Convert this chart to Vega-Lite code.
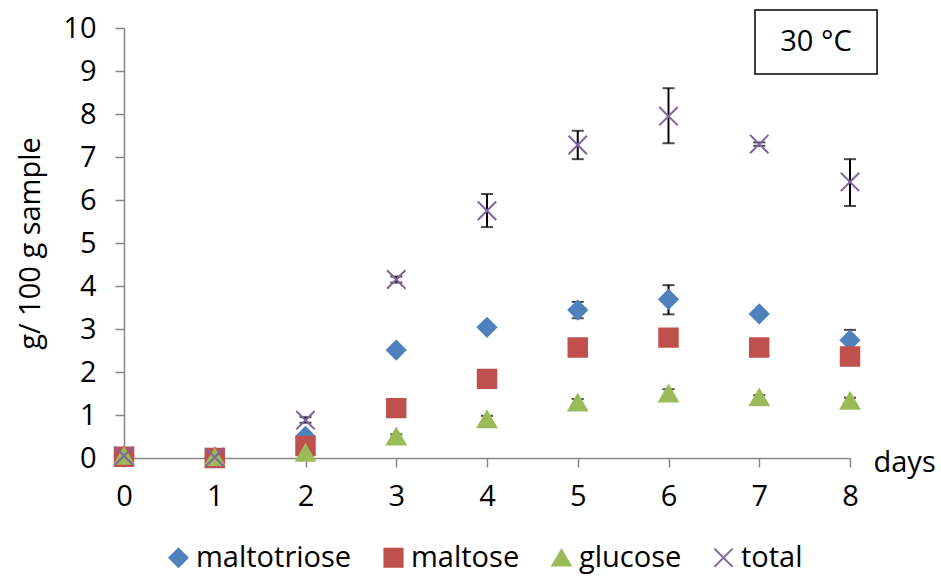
{
  "$schema": "https://vega.github.io/schema/vega-lite/v6.json",
  "width": 726,
  "height": 430,
  "autosize": {"type": "none"},
  "padding": {"left": 124, "top": 28, "right": 91, "bottom": 121},
  "config": {
    "view": {"stroke": null},
    "font": "Open Sans",
    "axis": {
      "grid": false,
      "domainColor": "#868686",
      "domainWidth": 1.5,
      "tickColor": "#868686",
      "tickWidth": 1.5,
      "tickSize": 9,
      "labelFontSize": 29,
      "labelColor": "#000000",
      "labelFlush": false,
      "titleFontSize": 29,
      "titleFontWeight": "normal",
      "titleColor": "#000000"
    },
    "axisX": {
      "labelPadding": 15,
      "titleX": 749,
      "titleY": 4,
      "titleAlign": "left",
      "titleBaseline": "middle"
    },
    "axisY": {
      "labelPadding": 19,
      "titleX": -94,
      "titleY": 215,
      "titleAngle": -90,
      "titleAlign": "center",
      "titleBaseline": "middle"
    }
  },
  "data": {
    "values": [
      {"day": 0, "series": "maltotriose", "value": 0.05, "low": null, "high": null},
      {"day": 1, "series": "maltotriose", "value": 0.02, "low": null, "high": null},
      {"day": 2, "series": "maltotriose", "value": 0.5, "low": null, "high": null},
      {"day": 3, "series": "maltotriose", "value": 2.51, "low": null, "high": null},
      {"day": 4, "series": "maltotriose", "value": 3.04, "low": 2.97, "high": 3.11},
      {"day": 5, "series": "maltotriose", "value": 3.44, "low": 3.25, "high": 3.63},
      {"day": 6, "series": "maltotriose", "value": 3.69, "low": 3.34, "high": 4.02},
      {"day": 7, "series": "maltotriose", "value": 3.35, "low": null, "high": null},
      {"day": 8, "series": "maltotriose", "value": 2.74, "low": 2.5, "high": 2.98},
      {"day": 0, "series": "maltose", "value": 0.03, "low": null, "high": null},
      {"day": 1, "series": "maltose", "value": 0.0, "low": null, "high": null},
      {"day": 2, "series": "maltose", "value": 0.28, "low": null, "high": null},
      {"day": 3, "series": "maltose", "value": 1.16, "low": null, "high": null},
      {"day": 4, "series": "maltose", "value": 1.84, "low": null, "high": null},
      {"day": 5, "series": "maltose", "value": 2.57, "low": null, "high": null},
      {"day": 6, "series": "maltose", "value": 2.8, "low": null, "high": null},
      {"day": 7, "series": "maltose", "value": 2.57, "low": null, "high": null},
      {"day": 8, "series": "maltose", "value": 2.36, "low": null, "high": null},
      {"day": 0, "series": "glucose", "value": 0.05, "low": null, "high": null},
      {"day": 1, "series": "glucose", "value": 0.02, "low": null, "high": null},
      {"day": 2, "series": "glucose", "value": 0.12, "low": null, "high": null},
      {"day": 3, "series": "glucose", "value": 0.5, "low": 0.45, "high": 0.55},
      {"day": 4, "series": "glucose", "value": 0.9, "low": 0.84, "high": 0.98},
      {"day": 5, "series": "glucose", "value": 1.29, "low": 1.22, "high": 1.37},
      {"day": 6, "series": "glucose", "value": 1.5, "low": 1.43, "high": 1.6},
      {"day": 7, "series": "glucose", "value": 1.41, "low": 1.36, "high": 1.46},
      {"day": 8, "series": "glucose", "value": 1.33, "low": 1.27, "high": 1.4},
      {"day": 0, "series": "total", "value": 0.05, "low": null, "high": null},
      {"day": 1, "series": "total", "value": 0.02, "low": null, "high": null},
      {"day": 2, "series": "total", "value": 0.88, "low": 0.82, "high": 0.95},
      {"day": 3, "series": "total", "value": 4.15, "low": 4.08, "high": 4.22},
      {"day": 4, "series": "total", "value": 5.75, "low": 5.37, "high": 6.14},
      {"day": 5, "series": "total", "value": 7.28, "low": 6.95, "high": 7.61},
      {"day": 6, "series": "total", "value": 7.95, "low": 7.32, "high": 8.6},
      {"day": 7, "series": "total", "value": 7.3, "low": 7.26, "high": 7.34},
      {"day": 8, "series": "total", "value": 6.42, "low": 5.86, "high": 6.95}
    ]
  },
  "layer": [
    {
      "transform": [{"filter": "isValid(datum.low)"}],
      "mark": {"type": "rule", "color": "#000000", "strokeWidth": 2},
      "encoding": {
        "x": {"field": "day", "type": "quantitative", "scale": {"domain": [0, 8], "nice": false}, "title": "days", "axis": {"values": [0,1,2,3,4,5,6,7,8], "format": "d"}},
        "y": {"field": "low", "type": "quantitative", "scale": {"domain": [0, 10], "nice": false}, "title": "g/ 100 g sample", "axis": {"values": [0,1,2,3,4,5,6,7,8,9,10], "format": "d"}},
        "y2": {"field": "high"}
      }
    },
    {
      "transform": [{"filter": "isValid(datum.low)"}],
      "mark": {"type": "tick", "color": "#000000", "orient": "horizontal", "size": 12, "thickness": 2},
      "encoding": {
        "x": {"field": "day", "type": "quantitative", "scale": {"domain": [0, 8], "nice": false}, "title": "days"},
        "y": {"field": "low", "type": "quantitative", "scale": {"domain": [0, 10], "nice": false}, "title": "g/ 100 g sample"}
      }
    },
    {
      "transform": [{"filter": "isValid(datum.high)"}],
      "mark": {"type": "tick", "color": "#000000", "orient": "horizontal", "size": 12, "thickness": 2},
      "encoding": {
        "x": {"field": "day", "type": "quantitative", "scale": {"domain": [0, 8], "nice": false}, "title": "days"},
        "y": {"field": "high", "type": "quantitative", "scale": {"domain": [0, 10], "nice": false}, "title": "g/ 100 g sample"}
      }
    },
    {
      "mark": {"type": "point", "filled": true, "opacity": 1, "size": 340, "strokeWidth": 2},
      "encoding": {
        "x": {"field": "day", "type": "quantitative", "scale": {"domain": [0, 8], "nice": false}, "title": "days"},
        "y": {"field": "value", "type": "quantitative", "scale": {"domain": [0, 10], "nice": false}, "title": "g/ 100 g sample"},
        "color": {
          "field": "series", "type": "nominal",
          "scale": {"domain": ["maltotriose", "maltose", "glucose", "total"], "range": ["#4F81BD", "#C0504D", "#9BBB59", "#8064A2"]},
          "legend": {"orient": "none", "legendX": 40, "legendY": 515, "direction": "horizontal", "title": null, "labelFontSize": 29, "labelColor": "#000000", "symbolSize": 330, "symbolStrokeWidth": 2, "columnPadding": 27, "labelOffset": 3, "symbolOpacity": 1}
        },
        "stroke": {
          "field": "series", "type": "nominal",
          "scale": {"domain": ["maltotriose", "maltose", "glucose", "total"], "range": ["#4F81BD", "#C0504D", "#9BBB59", "#8064A2"]},
          "legend": {"orient": "none", "legendX": 40, "legendY": 515, "direction": "horizontal", "title": null, "labelFontSize": 29, "labelColor": "#000000", "symbolSize": 330, "symbolStrokeWidth": 2, "columnPadding": 27, "labelOffset": 3, "symbolOpacity": 1}
        },
        "shape": {
          "field": "series", "type": "nominal",
          "scale": {"domain": ["maltotriose", "maltose", "glucose", "total"], "range": ["diamond", "square", "triangle-up", "M-1,-1L1,1M-1,1L1,-1"]},
          "legend": {"orient": "none", "legendX": 40, "legendY": 515, "direction": "horizontal", "title": null, "labelFontSize": 29, "labelColor": "#000000", "symbolSize": 330, "symbolStrokeWidth": 2, "columnPadding": 27, "labelOffset": 3, "symbolOpacity": 1}
        }
      }
    },
    {
      "data": {"values": [{}]},
      "mark": {"type": "rect", "fill": "#ffffff", "stroke": "#000000", "strokeWidth": 1.5},
      "encoding": {
        "x": {"datum": 6.953, "type": "quantitative", "scale": {"domain": [0, 8], "nice": false}, "title": "days"},
        "x2": {"datum": 8.298},
        "y": {"datum": 10.42, "type": "quantitative", "scale": {"domain": [0, 10], "nice": false}, "title": "g/ 100 g sample"},
        "y2": {"datum": 8.93}
      }
    },
    {
      "data": {"values": [{}]},
      "mark": {"type": "text", "fontSize": 29, "align": "center", "baseline": "middle", "color": "#000000"},
      "encoding": {
        "x": {"datum": 7.625, "type": "quantitative", "scale": {"domain": [0, 8], "nice": false}, "title": "days"},
        "y": {"datum": 9.67, "type": "quantitative", "scale": {"domain": [0, 10], "nice": false}, "title": "g/ 100 g sample"},
        "text": {"value": "30 °C"}
      }
    }
  ]
}
